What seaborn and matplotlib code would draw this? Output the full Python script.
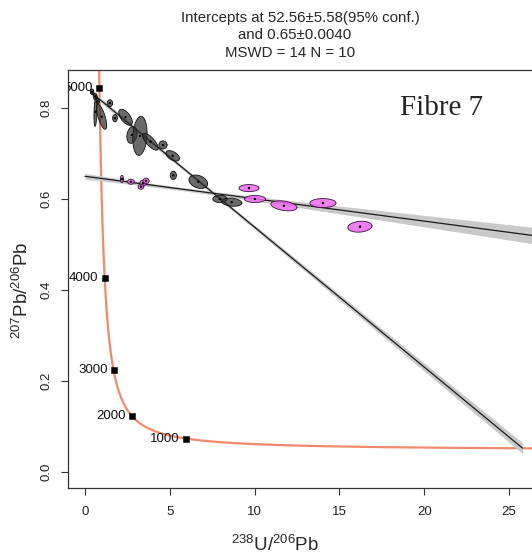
import numpy as np
import pandas as pd
import matplotlib
matplotlib.use("Agg")
import matplotlib.pyplot as plt
import seaborn as sns

# Decay constants (1/yr) and present-day 238U/235U
LAMBDA_238 = 1.55125e-10
LAMBDA_235 = 9.8485e-10
U238_U235 = 137.88

# Ages (Ma) marked along the concordia
concordia_ages_ma = [1000, 2000, 3000, 4000, 5000]

# Grey spots: 238U/206Pb, 207Pb/206Pb, 2-sigma half-widths, error correlation
grey_x = [0.42, 0.60, 0.75, 0.62, 0.98, 1.47, 1.77, 2.39, 2.77, 3.24, 3.86,
          4.60, 5.17, 5.21, 6.68, 7.96, 8.65]
grey_y = [0.836, 0.826, 0.815, 0.792, 0.781, 0.811, 0.778, 0.780, 0.741, 0.739,
          0.726, 0.719, 0.695, 0.652, 0.638, 0.600, 0.593]
grey_sx = [0.10, 0.11, 0.10, 0.09, 0.30, 0.16, 0.14, 0.40, 0.30, 0.42, 0.46,
           0.24, 0.40, 0.18, 0.55, 0.42, 0.60]
grey_sy = [0.006, 0.007, 0.006, 0.032, 0.0275, 0.0075, 0.008, 0.0175, 0.0185,
           0.043, 0.0185, 0.009, 0.0115, 0.009, 0.0148, 0.008, 0.009]
grey_rho = [0.0, 0.0, 0.0, 0.3, -0.7, 0.0, 0.0, -0.6, 0.2, 0.15, -0.75,
            0.0, -0.5, 0.0, -0.3, 0.0, -0.2]

# Pink spots (the N = 10 regression)
pink_x = [2.18, 2.71, 3.42, 3.60, 3.30, 9.67, 10.02, 11.73, 14.03, 16.21]
pink_y = [0.644, 0.638, 0.635, 0.640, 0.627, 0.624, 0.600, 0.585, 0.591, 0.539]
pink_sx = [0.09, 0.20, 0.18, 0.18, 0.17, 0.59, 0.62, 0.77, 0.77, 0.71]
pink_sy = [0.008, 0.0055, 0.0066, 0.006, 0.0055, 0.0077, 0.0077, 0.011, 0.0099, 0.012]
pink_rho = [0.0, 0.0, 0.0, 0.0, 0.0, 0.0, 0.0, -0.35, 0.0, 0.15]

# Regression through the pink spots: lower intercept age (Ma) and common-Pb intercept
pink_age_ma = 52.56
pink_age_err = 5.58
pink_y0 = 0.65
pink_y0_err = 0.0040
pink_mswd = 14
pink_n = 10

# Regression through the grey spots
grey_y0 = 0.846
grey_slope = -0.0308
grey_x_span = [0.35, 25.8]


def tw_point(age_ma):
    t = np.asarray(age_ma, dtype=float) * 1e6
    e8 = np.exp(LAMBDA_238 * t) - 1.0
    e5 = np.exp(LAMBDA_235 * t) - 1.0
    return 1.0 / e8, e5 / e8 / U238_U235


def ellipse_xy(cx, cy, sx, sy, rho, n=120):
    t = np.linspace(0, 2 * np.pi, n)
    return (cx + sx * np.cos(t),
            cy + sy * (rho * np.cos(t) + np.sqrt(1 - rho ** 2) * np.sin(t)))


sns.set_theme(style="ticks")
plt.rcParams["font.family"] = ["Liberation Sans", "DejaVu Sans"]
plt.rcParams["mathtext.fontset"] = "custom"
plt.rcParams["mathtext.rm"] = "Liberation Sans"
plt.rcParams["mathtext.it"] = "Liberation Sans:italic"

W, H = 532, 560
fig = plt.figure(figsize=(W / 100, H / 100), dpi=100)
ax = fig.add_axes([68 / W, 1 - 488 / H, (537 - 68) / W, (488 - 70) / H])
ax.set_xlim(-1.0, 26.65)
ax.set_ylim(-0.0363, 0.884)

# Concordia curve
ages = np.geomspace(60, 5600, 800)
cx, cy = tw_point(ages)
curve = pd.DataFrame({"x": cx, "y": cy})
sns.lineplot(data=curve, x="x", y="y", sort=False, estimator=None,
             color="#ef8a6c", lw=1.6, ax=ax, zorder=2)

# Pink regression line from its two intercepts
lx, ly = tw_point(pink_age_ma)
pink_slope = (ly - pink_y0) / lx
px = np.linspace(0.0, 27.0, 200)
py = pink_y0 + pink_slope * px
pw = np.sqrt(0.0035 ** 2 + (0.00087 * (px - 6.0)) ** 2)
ax.fill_between(px, py - pw, py + pw, color="#c9c9c9", lw=0, zorder=3)

# Grey regression line
gx = np.linspace(grey_x_span[0], grey_x_span[1], 200)
gy = grey_y0 + grey_slope * gx
gw = np.sqrt(0.004 ** 2 + (0.00057 * (gx - 6.0)) ** 2)
ax.fill_between(gx, gy - gw, gy + gw, color="#c9c9c9", lw=0, zorder=3)

lines = pd.concat([
    pd.DataFrame({"x": px, "y": py, "fit": "pink"}),
    pd.DataFrame({"x": gx, "y": gy, "fit": "grey"}),
])
sns.lineplot(data=lines, x="x", y="y", units="fit", estimator=None, sort=False,
             color="#1a1a1a", lw=0.9, ax=ax, zorder=4)

# Error ellipses
for x0, y0, sx, sy, r in zip(grey_x, grey_y, grey_sx, grey_sy, grey_rho):
    ex, ey = ellipse_xy(x0, y0, sx, sy, r)
    ax.fill(ex, ey, facecolor="#303030", alpha=0.72, edgecolor="none", zorder=5)
    ax.plot(ex, ey, color="#111111", lw=0.6, zorder=5)
for x0, y0, sx, sy, r in zip(pink_x, pink_y, pink_sx, pink_sy, pink_rho):
    ex, ey = ellipse_xy(x0, y0, sx, sy, r)
    ax.fill(ex, ey, facecolor="#ee6eee", alpha=0.88, edgecolor="none", zorder=5)
    ax.plot(ex, ey, color="#3a103a", lw=0.6, zorder=5)

centres = pd.DataFrame({"x": grey_x + pink_x, "y": grey_y + pink_y})
sns.scatterplot(data=centres, x="x", y="y", s=3, color="black", edgecolor="none",
                ax=ax, zorder=6)

# Age markers on the concordia
mx, my = tw_point(concordia_ages_ma)
marks = pd.DataFrame({"x": mx, "y": my})
sns.scatterplot(data=marks, x="x", y="y", marker="s", s=22, color="black",
                edgecolor="black", ax=ax, zorder=7)
for a, x0, y0 in zip(concordia_ages_ma, mx, my):
    t = ax.text(x0 - 0.36, y0, str(a), ha="right", va="center", fontsize=9.5,
                color="#111111", zorder=7, clip_on=True)
    t.set_clip_path(ax.patch)

# Axes styling
ax.set_xticks([0, 5, 10, 15, 20, 25])
ax.set_yticks([0.0, 0.2, 0.4, 0.6, 0.8])
ax.set_yticklabels(["0.0", "0.2", "0.4", "0.6", "0.8"], rotation=90, va="center")
ax.tick_params(direction="out", length=5, width=0.8, color="#333333",
               labelsize=9.5, labelcolor="#222222")
ax.tick_params(axis="x", pad=8)
ax.tick_params(axis="y", pad=6.5)
for s in ax.spines.values():
    s.set_color("#333333")
    s.set_linewidth(0.9)
ax.set_xlabel("")
ax.set_ylabel("")

fig.text(275 / W, 1 - 545 / H, r"$^{238}\mathrm{U}/^{206}\mathrm{Pb}$",
         ha="center", va="center", fontsize=13.5)
fig.text(22 / W, 1 - 290 / H, r"$^{207}\mathrm{Pb}/^{206}\mathrm{Pb}$",
         ha="center", va="center", rotation=90, fontsize=13.5)

fig.text(300 / W, 1 - 18 / H,
         f"Intercepts at {pink_age_ma:.2f}\u00b1{pink_age_err:.2f}(95% conf.)",
         ha="center", va="center", fontsize=10.8)
fig.text(295 / W, 1 - 35 / H, f"and {pink_y0:.2f}\u00b1{pink_y0_err:.4f}",
         ha="center", va="center", fontsize=10.8)
fig.text(290 / W, 1 - 53 / H, f"MSWD = {pink_mswd} N = {pink_n}",
         ha="center", va="center", fontsize=10.8)

fig.text(400 / W, 1 - 108 / H, "Fibre 7", ha="left", va="center",
         fontsize=21, family="Liberation Serif")

fig.savefig("out.png", dpi=100)
